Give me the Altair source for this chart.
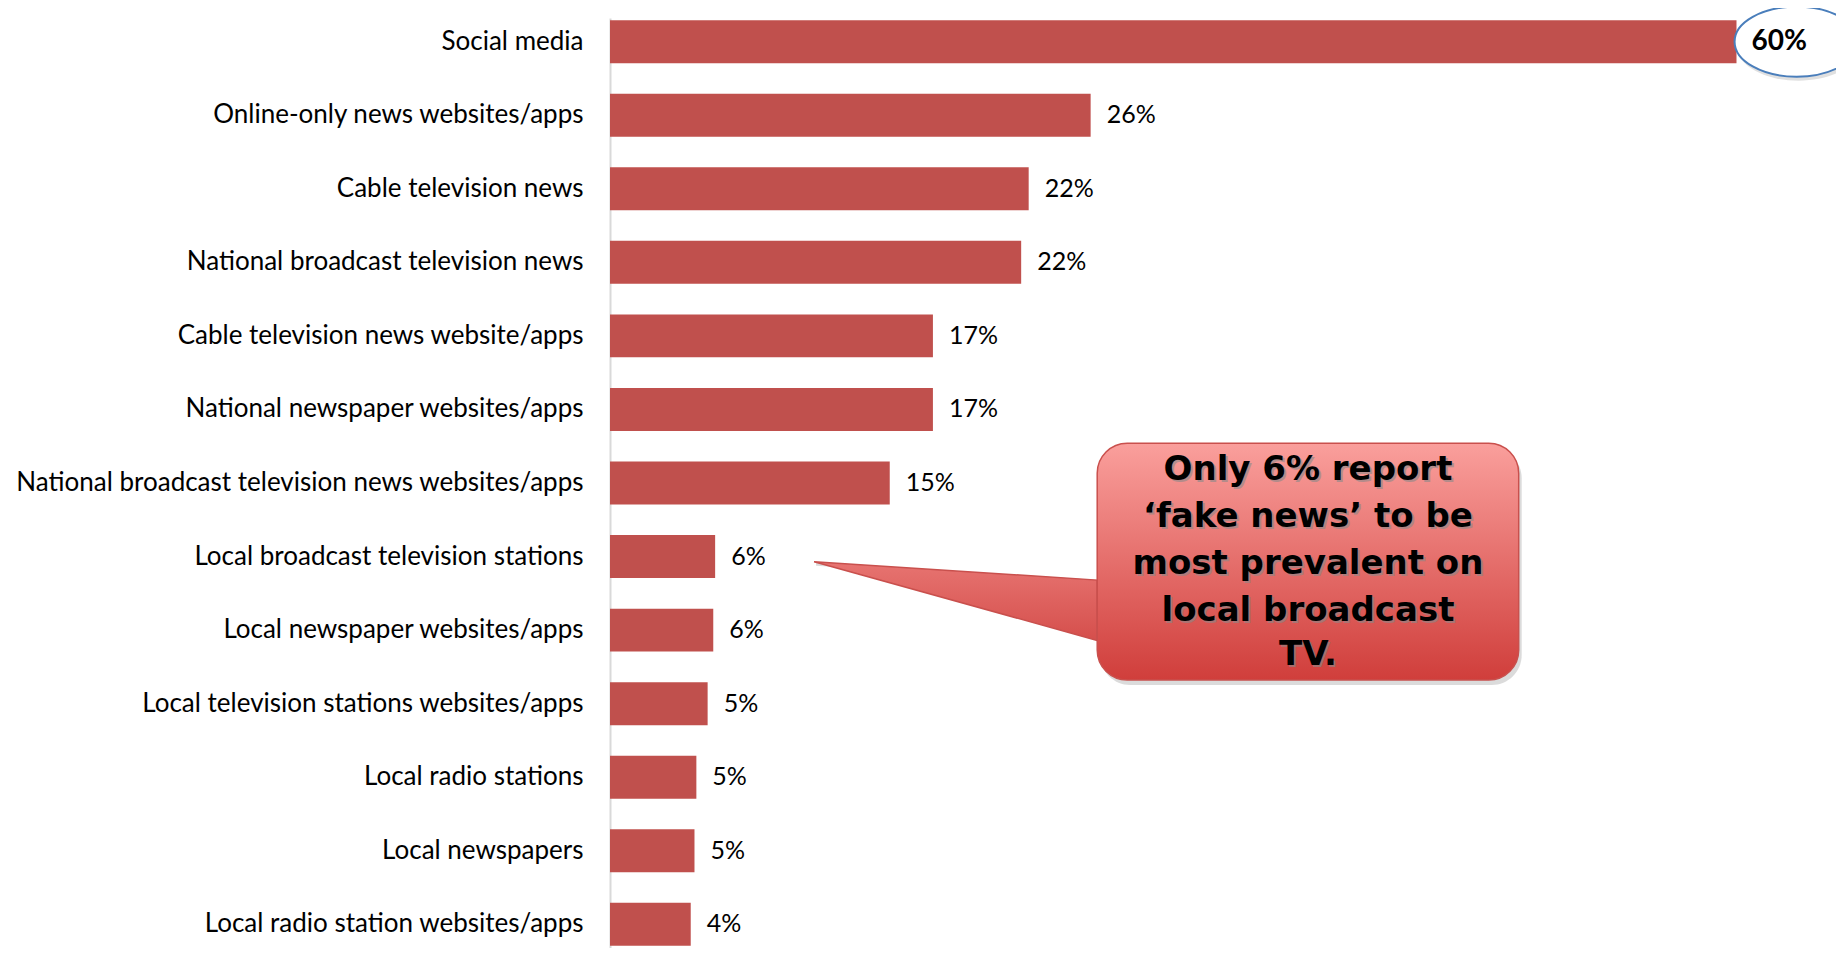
import altair as alt
import pandas as pd

categories = [
    "Social media",
    "Online-only news websites/apps",
    "Cable television news",
    "National broadcast television news",
    "Cable television news website/apps",
    "National newspaper websites/apps",
    "National broadcast television news websites/apps",
    "Local broadcast television stations",
    "Local newspaper websites/apps",
    "Local television stations websites/apps",
    "Local radio stations",
    "Local newspapers",
    "Local radio station websites/apps",
]
values = [60.0, 25.6, 22.3, 21.9, 17.2, 17.2, 14.9, 5.6, 5.5, 5.2, 4.6, 4.5, 4.3]
labels = ["60%", "26%", "22%", "22%", "17%", "17%", "15%", "6%", "6%", "5%", "5%", "5%", "4%"]

# callout annotation (x in %, y in row units: row i centre = i)
callout_lines = ["Only 6% report", "\u2018fake news\u2019 to be", "most prevalent on", "local broadcast", "TV."]
callout_line_rows = [5.82, 6.46, 7.10, 7.74, 8.34]
callout_box_x = [25.95, 48.4]
callout_box_rows = [5.46, 8.68]
pointer_x = [10.87, 25.95]
pointer_top_rows = [7.07, 7.32]
pointer_bottom_rows = [7.07, 8.14]
highlight_x = [63.2]
highlight_row = [0.0]

X_MAX = 65.3
PI, PO = 0.416, 0.03
N = len(categories)
row_lo = -(PO + (1 - PI) / 2)
row_hi = row_lo + (N - PI + 2 * PO)

bars_df = pd.DataFrame({"cat": categories, "value": values, "label": labels})
x_scale = alt.Scale(domain=[0, X_MAX], zero=True, nice=False)
row_scale = alt.Scale(domain=[row_lo, row_hi], reverse=True, nice=False, zero=False)

base = alt.Chart(bars_df)
y_band = alt.Y(
    "cat:N",
    sort=categories,
    scale=alt.Scale(paddingInner=PI, paddingOuter=PO),
    axis=alt.Axis(
        title=None, labelFontSize=26, labelFont="Lato", labelColor="black",
        ticks=False, labelPadding=27, domainColor="#D9D9D9", domainWidth=2,
        labelLimit=800,
    ),
)
bars = base.mark_bar(color="#C0504D").encode(
    x=alt.X("value:Q", scale=x_scale, axis=None),
    y=y_band,
)
bar_labels = base.transform_filter("datum.value < 50").mark_text(
    align="left", baseline="middle", dx=16, font="Lato", fontSize=25, color="black"
).encode(
    x=alt.X("value:Q", scale=x_scale),
    y=y_band,
    text="label:N",
)
bar_layer = alt.layer(bars, bar_labels)

ell_path = ("M 1 0 C 1 0.312 0.552 0.565 0 0.565 C -0.552 0.565 -1 0.312 -1 0 "
            "C -1 -0.312 -0.552 -0.565 0 -0.565 C 0.552 -0.565 1 -0.312 1 0 Z")
ell_df = pd.DataFrame({"x": highlight_x, "row": highlight_row,
                       "label": [labels[0]], "v": [values[0]]})
ell_shadow = alt.Chart(ell_df).mark_point(
    shape=ell_path, size=124 * 124, filled=True, fill="#bbbbbb", opacity=0.45,
    xOffset=2, yOffset=4, strokeWidth=0,
).encode(
    x=alt.X("x:Q", scale=x_scale),
    y=alt.Y("row:Q", scale=row_scale, axis=None),
)
ellipse = alt.Chart(ell_df).mark_point(
    shape=ell_path, size=124 * 124, filled=False, fill="white", fillOpacity=1,
    stroke="#4A7EBB", strokeWidth=2, opacity=1,
).encode(
    x=alt.X("x:Q", scale=x_scale),
    y=alt.Y("row:Q", scale=row_scale, axis=None),
)
top_label = alt.Chart(ell_df).mark_text(
    align="left", baseline="middle", dx=15, font="Lato", fontSize=28,
    fontWeight="bold", color="black"
).encode(
    x=alt.X("v:Q", scale=x_scale),
    y=alt.Y("row:Q", scale=row_scale, axis=None),
    text="label:N",
)

box_df = pd.DataFrame({"x": [callout_box_x[0]], "x2": [callout_box_x[1]],
                       "r": [callout_box_rows[0]], "r2": [callout_box_rows[1]]})
box_shadow = alt.Chart(box_df).mark_rect(
    cornerRadius=30, fill="#999999", opacity=0.35, xOffset=3, x2Offset=3, yOffset=5, y2Offset=5
).encode(
    x=alt.X("x:Q", scale=x_scale), x2="x2:Q",
    y=alt.Y("r:Q", scale=row_scale, axis=None), y2="r2:Q",
)
box = alt.Chart(box_df).mark_rect(
    cornerRadius=30,
    fill=alt.LinearGradient(
        gradient="linear", x1=0, x2=0, y1=0, y2=1,
        stops=[alt.GradientStop(offset=0, color="#FA9F9C"),
               alt.GradientStop(offset=1, color="#D03E3B")],
    ),
    stroke="#C9504D", strokeWidth=1.5,
).encode(
    x=alt.X("x:Q", scale=x_scale), x2="x2:Q",
    y=alt.Y("r:Q", scale=row_scale, axis=None), y2="r2:Q",
)

ptr_df = pd.DataFrame({"x": pointer_x, "r": pointer_top_rows, "r2": pointer_bottom_rows})
pointer_shadow = alt.Chart(ptr_df).mark_area(
    fill="#999999", opacity=0.35, xOffset=2, yOffset=4
).encode(
    x=alt.X("x:Q", scale=x_scale),
    y=alt.Y("r:Q", scale=row_scale, axis=None), y2="r2:Q",
)
pointer = alt.Chart(ptr_df).mark_area(
    fill=alt.LinearGradient(
        gradient="linear", x1=0, x2=0, y1=0, y2=1,
        stops=[alt.GradientStop(offset=0, color="#E77471"),
               alt.GradientStop(offset=1, color="#D54F4C")],
    ),
    stroke="#C9504D", strokeWidth=1.5, opacity=1,
).encode(
    x=alt.X("x:Q", scale=x_scale),
    y=alt.Y("r:Q", scale=row_scale, axis=None), y2="r2:Q",
)

txt_df = pd.DataFrame({"t": callout_lines, "r": callout_line_rows,
                       "x": [(callout_box_x[0] + callout_box_x[1]) / 2] * len(callout_lines)})
txt_shadow = alt.Chart(txt_df).mark_text(
    align="center", baseline="middle", font="DejaVu Sans", fontWeight="bold",
    fontSize=34, color="#8a8a8a", dx=2, dy=2, opacity=0.6,
).encode(
    x=alt.X("x:Q", scale=x_scale),
    y=alt.Y("r:Q", scale=row_scale, axis=None),
    text="t:N",
)
txt = alt.Chart(txt_df).mark_text(
    align="center", baseline="middle", font="DejaVu Sans", fontWeight="bold",
    fontSize=34, color="black",
).encode(
    x=alt.X("x:Q", scale=x_scale),
    y=alt.Y("r:Q", scale=row_scale, axis=None),
    text="t:N",
)

annot_layer = alt.layer(
    ell_shadow, ellipse, top_label,
    pointer_shadow, box_shadow, pointer, box, txt_shadow, txt,
)

chart = alt.layer(bar_layer, annot_layer).resolve_scale(y="independent").properties(
    width=1226, height=930,
    autosize=alt.AutoSizeParams(type="none"),
    padding={"left": 602, "top": 10, "right": 0, "bottom": 0},
    background="white",
).configure_view(stroke=None)

chart.save("out.html", embed_options={"renderer": "svg", "actions": False})
